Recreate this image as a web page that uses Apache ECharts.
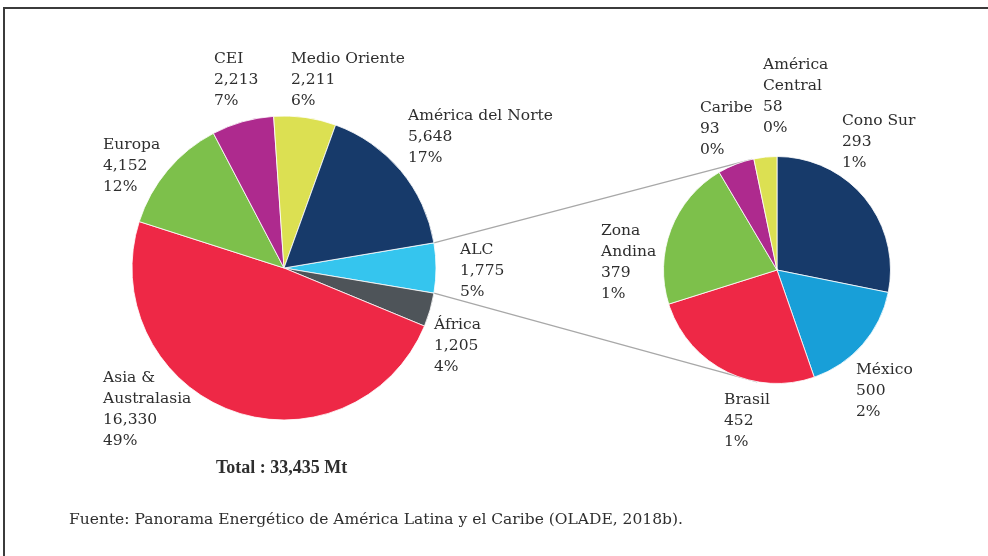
<!DOCTYPE html>
<html>
<head>
<meta charset="utf-8">
<script src="https://cdn.jsdelivr.net/npm/echarts@6/dist/echarts.min.js"></script>
<style>
  html, body { margin: 0; padding: 0; background: #fff; }
  #frame {
    position: absolute; left: 3px; top: 7px;
    width: 1000px; height: 600px;
    border: 2px solid #3b3b3b;
  }
  #chart { position: absolute; left: 0; top: 0; width: 988px; height: 556px; }
</style>
</head>
<body>
<div id="frame"></div>
<div id="chart"></div>
<script>
// Main pie, clockwise from the ALC slice at 3 o'clock
const mainNames = ['ALC', 'África', 'Asia &\nAustralasia', 'Europa', 'CEI', 'Medio Oriente', 'América del Norte'];
const mainValues = [1775, 1205, 16330, 4152, 2213, 2211, 5648];
const mainPct = ['5%', '4%', '49%', '12%', '7%', '6%', '17%'];
const mainColors = ['#35c5ee', '#4e5459', '#ee2846', '#7dc04b', '#ae2a8e', '#dce052', '#173a6a'];

// ALC breakdown, clockwise from 12 o'clock.
// slice sizes as drawn; the printed numbers of the first two slices are swapped in the source figure
const subNames = ['Cono Sur', 'México', 'Brasil', 'Zona\nAndina', 'Caribe', 'América\nCentral'];
const subValues = [500, 293, 452, 379, 93, 58];
const subPrinted = [293, 500, 452, 379, 93, 58];
const subPct = ['1%', '2%', '1%', '1%', '0%', '0%'];
const subColors = ['#173a6a', '#189fd8', '#ee2846', '#7dc04b', '#ae2a8e', '#dce052'];

const totalText = 'Total : 33,435 Mt';
const sourceText = 'Fuente: Panorama Energético de América Latina y el Caribe (OLADE, 2018b).';

// layout
const mainCenter = [284, 268], mainR = 152;
const subCenter = [777, 270], subR = 113.5;
const mainLabelPos = [[460, 239.5], [434, 314.5], [103, 367.5], [103, 134], [214, 48.5], [291, 48.5], [408, 105.5]];
const subLabelPos = [[842, 110.5], [856, 359.5], [724, 389.5], [601, 220], [700, 97.5], [763, 54.5]];
const joinAngles = [-12.7, 190]; // where the connectors meet the second pie (deg from top, clockwise)

const FONT = 'DejaVu Serif';
const fmt = v => v.toLocaleString('en-US');

const sum = mainValues.reduce((a, b) => a + b, 0);
const half = mainValues[0] / sum * 180;
const rad = Math.PI / 180;

const chart = echarts.init(document.getElementById('chart'));

function labelStyle() {
  return {
    show: true,
    position: 'outside',
    fontFamily: FONT,
    fontSize: 15.5,
    lineHeight: 21,
    color: '#2e2e2e',
    align: 'left'
  };
}

const leftTop = [mainCenter[0] + mainR * Math.cos(half * rad), mainCenter[1] - mainR * Math.sin(half * rad)];
const leftBot = [mainCenter[0] + mainR * Math.cos(half * rad), mainCenter[1] + mainR * Math.sin(half * rad)];
const rightPt = a => [subCenter[0] + subR * Math.sin(a * rad), subCenter[1] - subR * Math.cos(a * rad)];

chart.setOption({
  animation: false,
  series: [{
    type: 'pie',
    center: mainCenter,
    radius: mainR,
    startAngle: half,
    clockwise: true,
    avoidLabelOverlap: false,
    silent: true,
    itemStyle: { borderColor: '#fff', borderWidth: 0.8 },
    label: Object.assign(labelStyle(), {
      formatter: p => mainNames[p.dataIndex] + '\n' + fmt(mainValues[p.dataIndex]) + '\n' + mainPct[p.dataIndex]
    }),
    labelLine: { show: false },
    labelLayout: p => ({ x: mainLabelPos[p.dataIndex][0], y: mainLabelPos[p.dataIndex][1], align: 'left', verticalAlign: 'top' }),
    data: mainValues.map((v, i) => ({ name: mainNames[i], value: v, itemStyle: { color: mainColors[i] } }))
  }, {
    type: 'pie',
    center: subCenter,
    radius: subR,
    startAngle: 90,
    clockwise: true,
    avoidLabelOverlap: false,
    silent: true,
    itemStyle: { borderColor: '#fff', borderWidth: 0.8 },
    label: Object.assign(labelStyle(), {
      formatter: p => subNames[p.dataIndex] + '\n' + fmt(subPrinted[p.dataIndex]) + '\n' + subPct[p.dataIndex]
    }),
    labelLine: { show: false },
    labelLayout: p => ({ x: subLabelPos[p.dataIndex][0], y: subLabelPos[p.dataIndex][1], align: 'left', verticalAlign: 'top' }),
    data: subValues.map((v, i) => ({ name: subNames[i], value: v, itemStyle: { color: subColors[i] } }))
  }],
  graphic: [
    {
      type: 'line', z: -1,
      shape: { x1: leftTop[0], y1: leftTop[1], x2: rightPt(joinAngles[0])[0], y2: rightPt(joinAngles[0])[1] },
      style: { stroke: '#a8a8a8', lineWidth: 1.3 }
    },
    {
      type: 'line', z: -1,
      shape: { x1: leftBot[0], y1: leftBot[1], x2: rightPt(joinAngles[1])[0], y2: rightPt(joinAngles[1])[1] },
      style: { stroke: '#a8a8a8', lineWidth: 1.3 }
    },
    {
      type: 'text', left: 216, top: 459,
      style: { text: totalText, fontFamily: 'Liberation Serif', fontWeight: 'bold', fontSize: 18, fill: '#2e2e2e' }
    },
    {
      type: 'text', left: 69, top: 512,
      style: { text: sourceText, fontFamily: FONT, fontSize: 15.5, fill: '#2e2e2e' }
    }
  ]
});
</script>
</body>
</html>
